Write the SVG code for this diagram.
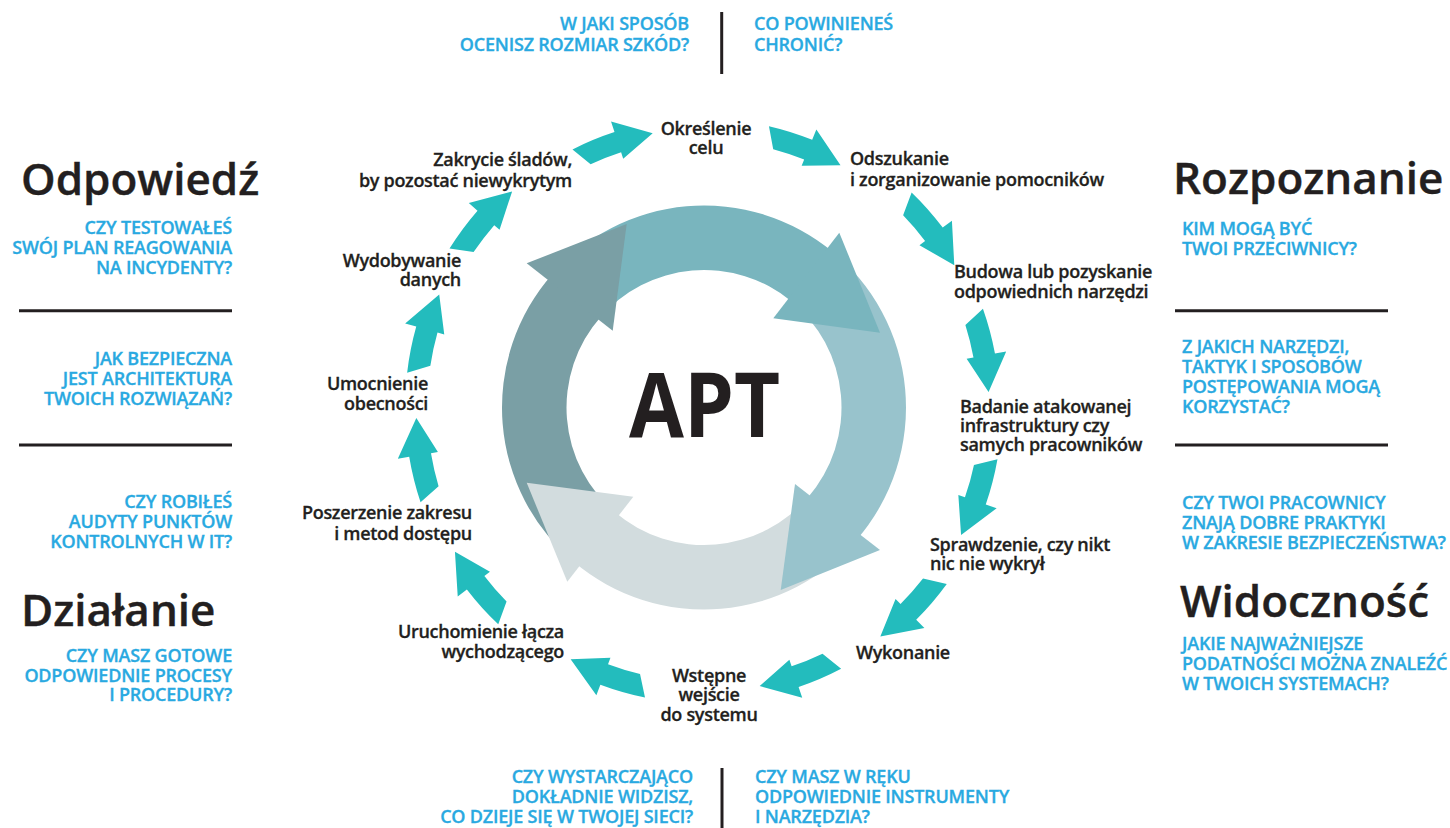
<svg xmlns="http://www.w3.org/2000/svg" xmlns:xlink="http://www.w3.org/1999/xlink" width="1450" height="828" viewBox="0 0 1450 828">
  <style>
    text { font-family: "Open Sans", "Noto Sans", "DejaVu Sans", sans-serif; font-weight: 600; }
    .lbl { font-size: 18px; fill: #231f20; stroke: #231f20; stroke-width: 0.3px; letter-spacing: -0.3px; }
    .q { font-size: 18px; fill: #29a9e1; stroke: #29a9e1; stroke-width: 0.3px; letter-spacing: -0.2px; }
    .h { font-size: 44px; fill: #231f20; stroke: #231f20; stroke-width: 0.4px; }
    .apt { font-size: 90px; font-weight: 700; fill: #231f20; }
    .rule { stroke: #231f20; stroke-width: 3; fill: none; }
    .step { fill: #23bcbd; }
  </style>
  <defs>
    <!-- one small curved step arrow, base of the head on the +x axis, around the ring centre -->
    <path id="sa" d="M 294.33,-46.62 A 298 298 0 0 1 298,0 L 309.5,0 L 284.61,36.97 L 269,0 L 276,0 A 276 276 0 0 0 273.94,-33.64 Z"/>
  </defs>

  <rect x="0" y="0" width="1450" height="828" fill="#ffffff"/>

  <!-- central cycle: four ring bands, then the four heads on top -->
  <g id="cycle">
    <path fill="#79b5be" d="M 550.40,276.31 A 202 202 0 0 1 832.76,251.86 L 791.65,301.55 A 137.5 137.5 0 0 0 599.44,318.20 Z"/>
    <path fill="#98c3cc" d="M 830.02,249.63 A 202 202 0 0 1 856.45,540.02 L 807.77,497.71 A 137.5 137.5 0 0 0 789.78,300.04 Z"/>
    <path fill="#d2dcde" d="M 858.74,537.34 A 202 202 0 0 1 573.35,561.56 L 615.07,512.37 A 137.5 137.5 0 0 0 809.33,495.88 Z"/>
    <path fill="#7a9fa5" d="M 576.06,563.82 A 202 202 0 0 1 552.71,273.65 L 601.02,316.39 A 137.5 137.5 0 0 0 616.91,513.90 Z"/>
    <polygon fill="#79b5be" points="839.3,232.7 880,332.7 773.3,318.3"/>
    <polygon fill="#98c3cc" points="880,550 780.7,590 795,484"/>
    <polygon fill="#d2dcde" points="567.3,581.7 526.7,482.7 633.3,496.7"/>
    <polygon fill="#7a9fa5" points="526.7,263.3 626.7,224 612.7,330.7"/>
    <text class="apt" x="704.5" y="436.7" text-anchor="middle" textLength="151" lengthAdjust="spacingAndGlyphs">APT</text>
  </g>

  <!-- step arrows between the stages -->
  <g id="connectors" class="step">
    <use xlink:href="#sa" transform="translate(704 407.5) rotate(-108) scale(0.972)"/>
    <use xlink:href="#sa" transform="translate(704 407.5) rotate(-68) scale(0.969)"/>
    <use xlink:href="#sa" transform="translate(704 407.5) rotate(-37) scale(1.003)"/>
    <use xlink:href="#sa" transform="translate(704 407.5) rotate(-10.5) scale(0.993)"/>
    <use xlink:href="#sa" transform="translate(704 407.5) rotate(19) scale(1)"/>
    <use xlink:href="#sa" transform="translate(704 407.5) rotate(45) scale(1.007)"/>
    <use xlink:href="#sa" transform="translate(704 407.5) rotate(71.3) scale(0.990)"/>
    <use xlink:href="#sa" transform="translate(704 407.5) rotate(110.5) scale(0.993)"/>
    <use xlink:href="#sa" transform="translate(704 407.5) rotate(142.5) scale(1.003)"/>
    <use xlink:href="#sa" transform="translate(704 407.5) rotate(170.5) scale(1.003)"/>
    <use xlink:href="#sa" transform="translate(704 407.5) rotate(-164.3) scale(1.003)"/>
    <use xlink:href="#sa" transform="translate(704 407.5) rotate(-139) scale(1.007)"/>
  </g>

  <!-- stages around the cycle -->
  <g id="stage-cel">
    <text class="lbl" text-anchor="middle"><tspan x="706" y="135">Określenie</tspan><tspan x="706" y="154">celu</tspan></text>
  </g>
  <g id="stage-pomocnicy">
    <text class="lbl"><tspan x="850" y="165">Odszukanie</tspan><tspan x="850" y="185.5">i zorganizowanie pomocników</tspan></text>
  </g>
  <g id="stage-narzedzia">
    <text class="lbl"><tspan x="954" y="278">Budowa lub pozyskanie</tspan><tspan x="954" y="298">odpowiednich narzędzi</tspan></text>
  </g>
  <g id="stage-badanie">
    <text class="lbl"><tspan x="960" y="413">Badanie atakowanej</tspan><tspan x="960" y="432">infrastruktury czy</tspan><tspan x="960" y="451">samych pracowników</tspan></text>
  </g>
  <g id="stage-sprawdzenie">
    <text class="lbl"><tspan x="930" y="550.5">Sprawdzenie, czy nikt</tspan><tspan x="930" y="569.5">nic nie wykrył</tspan></text>
  </g>
  <g id="stage-wykonanie">
    <text class="lbl" x="856" y="658.5">Wykonanie</text>
  </g>
  <g id="stage-wejscie">
    <text class="lbl" text-anchor="middle"><tspan x="709" y="681.5">Wstępne</tspan><tspan x="709" y="701">wejście</tspan><tspan x="709" y="720.5">do systemu</tspan></text>
  </g>
  <g id="stage-lacze">
    <text class="lbl" text-anchor="end"><tspan x="564" y="638">Uruchomienie łącza</tspan><tspan x="564" y="658">wychodzącego</tspan></text>
  </g>
  <g id="stage-poszerzenie">
    <text class="lbl" text-anchor="end"><tspan x="472" y="519">Poszerzenie zakresu</tspan><tspan x="472" y="540">i metod dostępu</tspan></text>
  </g>
  <g id="stage-umocnienie">
    <text class="lbl" text-anchor="end"><tspan x="428" y="390">Umocnienie</tspan><tspan x="428" y="409.5">obecności</tspan></text>
  </g>
  <g id="stage-wydobywanie">
    <text class="lbl" text-anchor="end"><tspan x="461" y="267">Wydobywanie</tspan><tspan x="461" y="286">danych</tspan></text>
  </g>
  <g id="stage-zakrycie">
    <text class="lbl" text-anchor="end"><tspan x="572" y="166">Zakrycie śladów,</tspan><tspan x="572" y="187">by pozostać niewykrytym</tspan></text>
  </g>

  <!-- questions above and below the cycle -->
  <g id="q-top">
    <line class="rule" x1="721.7" y1="12" x2="721.7" y2="74"/>
    <text class="q" text-anchor="end"><tspan x="689" y="30">W JAKI SPOSÓB</tspan><tspan x="689" y="50.5">OCENISZ ROZMIAR SZKÓD?</tspan></text>
    <text class="q"><tspan x="754" y="30">CO POWINIENEŚ</tspan><tspan x="754" y="50.5">CHRONIĆ?</tspan></text>
  </g>
  <g id="q-bottom">
    <line class="rule" x1="722" y1="768" x2="722" y2="828"/>
    <text class="q" text-anchor="end"><tspan x="693" y="783">CZY WYSTARCZAJĄCO</tspan><tspan x="693" y="803">DOKŁADNIE WIDZISZ,</tspan><tspan x="693" y="823">CO DZIEJE SIĘ W TWOJEJ SIECI?</tspan></text>
    <text class="q"><tspan x="755" y="783">CZY MASZ W RĘKU</tspan><tspan x="755" y="803">ODPOWIEDNIE INSTRUMENTY</tspan><tspan x="755" y="823">I NARZĘDZIA?</tspan></text>
  </g>

  <!-- left column -->
  <g id="odpowiedz">
    <text class="h" x="21" y="195">Odpowiedź</text>
    <text class="q" text-anchor="end"><tspan x="232" y="234">CZY TESTOWAŁEŚ</tspan><tspan x="232" y="254">SWÓJ PLAN REAGOWANIA</tspan><tspan x="232" y="274">NA INCYDENTY?</tspan></text>
    <line class="rule" x1="19" y1="310.7" x2="232" y2="310.7"/>
    <text class="q" text-anchor="end"><tspan x="232" y="365">JAK BEZPIECZNA</tspan><tspan x="232" y="385">JEST ARCHITEKTURA</tspan><tspan x="232" y="405">TWOICH ROZWIĄZAŃ?</tspan></text>
    <line class="rule" x1="19" y1="445" x2="232" y2="445"/>
  </g>
  <g id="dzialanie">
    <text class="q" text-anchor="end"><tspan x="232" y="508">CZY ROBIŁEŚ</tspan><tspan x="232" y="528">AUDYTY PUNKTÓW</tspan><tspan x="232" y="548">KONTROLNYCH W IT?</tspan></text>
    <text class="h" x="21" y="626">Działanie</text>
    <text class="q" text-anchor="end"><tspan x="232" y="662">CZY MASZ GOTOWE</tspan><tspan x="232" y="681.5">ODPOWIEDNIE PROCESY</tspan><tspan x="232" y="701">I PROCEDURY?</tspan></text>
  </g>

  <!-- right column -->
  <g id="rozpoznanie">
    <text class="h" x="1173" y="194">Rozpoznanie</text>
    <text class="q"><tspan x="1182" y="235">KIM MOGĄ BYĆ</tspan><tspan x="1182" y="254.5">TWOI PRZECIWNICY?</tspan></text>
    <line class="rule" x1="1175" y1="310.7" x2="1388" y2="310.7"/>
    <text class="q"><tspan x="1182" y="353">Z JAKICH NARZĘDZI,</tspan><tspan x="1182" y="373">TAKTYK I SPOSOBÓW</tspan><tspan x="1182" y="393">POSTĘPOWANIA MOGĄ</tspan><tspan x="1182" y="413">KORZYSTAĆ?</tspan></text>
    <line class="rule" x1="1175" y1="445" x2="1388" y2="445"/>
  </g>
  <g id="widocznosc">
    <text class="q"><tspan x="1182" y="509">CZY TWOI PRACOWNICY</tspan><tspan x="1182" y="529">ZNAJĄ DOBRE PRAKTYKI</tspan><tspan x="1182" y="549">W ZAKRESIE BEZPIECZEŃSTWA?</tspan></text>
    <text class="h" x="1180" y="617">Widoczność</text>
    <text class="q"><tspan x="1182" y="650">JAKIE NAJWAŻNIEJSZE</tspan><tspan x="1182" y="670">PODATNOŚCI MOŻNA ZNALEŹĆ</tspan><tspan x="1182" y="690">W TWOICH SYSTEMACH?</tspan></text>
  </g>
</svg>
